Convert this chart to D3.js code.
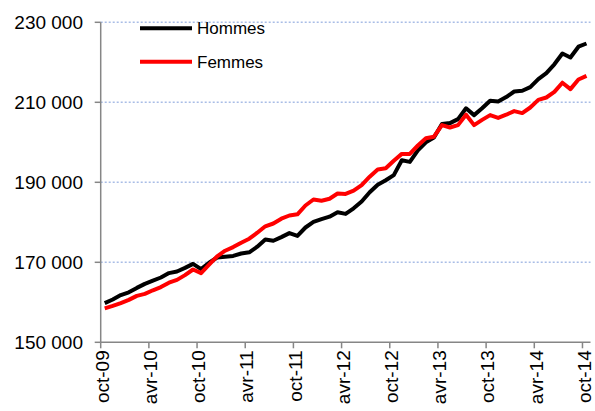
<!DOCTYPE html>
<html>
<head>
<meta charset="utf-8">
<script src="https://cdn.jsdelivr.net/npm/d3@7"></script>
<style>
  body { margin: 0; background: #fff; }
  svg { display: block; font-family: 'Liberation Sans', Arial, sans-serif; }
</style>
</head>
<body>
<svg id="chart" width="595" height="411"></svg>
<script>
const months = [
  'oct-09', 'nov-09', 'déc-09', 'janv-10', 'févr-10', 'mars-10', 'avr-10', 'mai-10', 'juin-10', 'juil-10', 'août-10', 'sept-10',
  'oct-10', 'nov-10', 'déc-10', 'janv-11', 'févr-11', 'mars-11', 'avr-11', 'mai-11', 'juin-11', 'juil-11', 'août-11', 'sept-11',
  'oct-11', 'nov-11', 'déc-11', 'janv-12', 'févr-12', 'mars-12', 'avr-12', 'mai-12', 'juin-12', 'juil-12', 'août-12', 'sept-12',
  'oct-12', 'nov-12', 'déc-12', 'janv-13', 'févr-13', 'mars-13', 'avr-13', 'mai-13', 'juin-13', 'juil-13', 'août-13', 'sept-13',
  'oct-13', 'nov-13', 'déc-13', 'janv-14', 'févr-14', 'mars-14', 'avr-14', 'mai-14', 'juin-14', 'juil-14', 'août-14', 'sept-14',
  'oct-14'
]

const hommes = [
  159800, 160700, 161800, 162500, 163600, 164600, 165400, 166200, 167300, 167700, 168600, 169600,
  168300, 169900, 171200, 171400, 171600, 172200, 172500, 173900, 175700, 175400, 176300, 177300,
  176600, 178700, 180100, 180800, 181400, 182500, 182100, 183500, 185200, 187500, 189400, 190500,
  191800, 195500, 195100, 198000, 200000, 201200, 204600, 204800, 205800, 208500, 206800, 208500,
  210400, 210200, 211300, 212700, 212900, 213800, 215800, 217300, 219500, 222200, 221200, 223900,
  224700
]

const femmes = [
  158500, 159100, 159800, 160600, 161600, 162100, 163000, 163800, 164900, 165600, 166800, 168200,
  167300, 169400, 171500, 172900, 173800, 174900, 175900, 177400, 179000, 179700, 180900, 181700,
  182000, 184200, 185700, 185400, 185900, 187200, 187100, 187900, 189300, 191400, 193200, 193500,
  195400, 197100, 197100, 199200, 201000, 201400, 204300, 203700, 204300, 206900, 204300, 205600,
  206800, 206100, 206900, 207800, 207300, 208700, 210600, 211200, 212600, 214900, 213300, 215700,
  216600
]

const yTicks = [150000, 170000, 190000, 210000, 230000]
const tickLabels = ['oct-09', 'avr-10', 'oct-10', 'avr-11', 'oct-11', 'avr-12', 'oct-12', 'avr-13', 'oct-13', 'avr-14', 'oct-14']

const series = [
  { name: 'Hommes', values: hommes, color: '#000000' },
  { name: 'Femmes', values: femmes, color: '#ff0000' }
]

const svg = d3.select('#chart')
const plotLeft = 100.7
const plotRight = 590.5
const plotTop = 22.3
const plotBottom = 342.3

const x = d3.scaleBand().domain(months).range([plotLeft, plotRight]).padding(0)
const y = d3.scaleLinear().domain([150000, 230000]).range([plotBottom, plotTop])
const half = x.bandwidth() / 2

const fr = d3.formatLocale({ decimal: ',', thousands: ' ', grouping: [3], currency: ['', ' €'] })
const fmt = fr.format(',')

// gridlines
svg.append('g')
  .selectAll('line')
  .data(yTicks.filter((d) => d > 150000))
  .join('line')
  .attr('x1', plotLeft)
  .attr('x2', plotRight)
  .attr('y1', (d) => y(d))
  .attr('y2', (d) => y(d))
  .style('stroke', '#a9bde6')
  .style('stroke-width', 1.6)
  .style('stroke-dasharray', '2,2')

// y axis
const yAxis = svg.append('g')
yAxis.append('line')
  .attr('x1', plotLeft).attr('x2', plotLeft)
  .attr('y1', plotTop).attr('y2', plotBottom)
  .style('stroke', '#868686').style('stroke-width', 1.5)
yAxis.selectAll('.tick')
  .data(yTicks)
  .join('line')
  .attr('class', 'tick')
  .attr('x1', plotLeft - 6).attr('x2', plotLeft)
  .attr('y1', (d) => y(d)).attr('y2', (d) => y(d))
  .style('stroke', '#868686').style('stroke-width', 1.5)
yAxis.selectAll('text')
  .data(yTicks)
  .join('text')
  .attr('x', 83)
  .attr('y', (d) => y(d))
  .attr('dy', '0.36em')
  .attr('text-anchor', 'end')
  .style('font-size', '19px')
  .style('fill', '#000')
  .text((d) => fmt(d))

// x axis
const xAxis = svg.append('g')
xAxis.append('line')
  .attr('x1', plotLeft).attr('x2', plotRight)
  .attr('y1', plotBottom).attr('y2', plotBottom)
  .style('stroke', '#868686').style('stroke-width', 1.5)
xAxis.selectAll('.tick')
  .data(tickLabels)
  .join('line')
  .attr('class', 'tick')
  .attr('x1', (d) => x(d)).attr('x2', (d) => x(d))
  .attr('y1', plotBottom).attr('y2', plotBottom + 6)
  .style('stroke', '#868686').style('stroke-width', 1.5)
xAxis.selectAll('text')
  .data(tickLabels)
  .join('text')
  .attr('transform', (d) => `translate(${x(d) + half - 1.5},${plotBottom + 8}) rotate(-90)`)
  .attr('dy', '0.3em')
  .attr('text-anchor', 'end')
  .style('font-size', '19px')
  .style('fill', '#000')
  .text((d) => d)

// lines
const line = d3.line()
  .x((d, i) => x(months[i]) + half)
  .y((d) => y(d))

svg.append('g')
  .selectAll('path')
  .data(series)
  .join('path')
  .attr('d', (d) => line(d.values))
  .style('fill', 'none')
  .style('stroke', (d) => d.color)
  .style('stroke-width', 4)
  .style('stroke-linejoin', 'round')

// legend
const legend = svg.append('g')
  .selectAll('g')
  .data(series)
  .join('g')
  .attr('transform', (d, i) => `translate(140,${28.3 + i * 33.4})`)
legend.append('line')
  .attr('x1', 0).attr('x2', 52)
  .style('stroke', (d) => d.color)
  .style('stroke-width', 4)
legend.append('text')
  .attr('x', 57)
  .attr('dy', '0.36em')
  .style('font-size', '17px')
  .style('fill', '#000')
  .text((d) => d.name)
</script>
</body>
</html>
